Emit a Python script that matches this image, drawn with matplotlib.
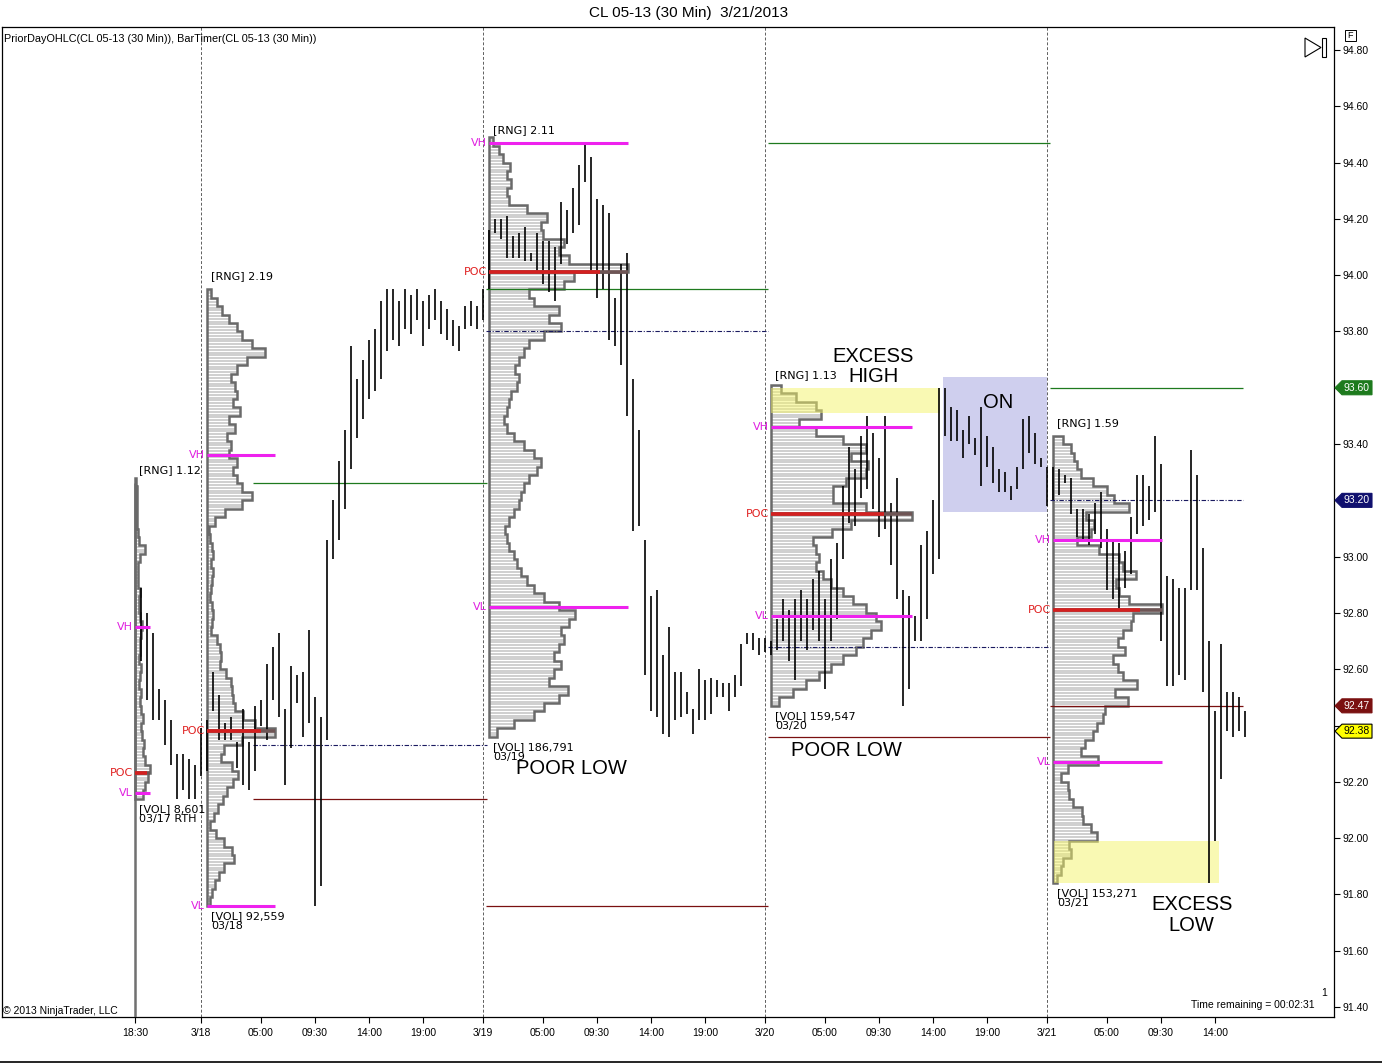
import numpy as np
import matplotlib.pyplot as plt
from matplotlib.patches import Rectangle, Polygon
from matplotlib.lines import Line2D

plt.rcParams['font.family'] = ['Liberation Sans', 'DejaVu Sans']

# 30 min bars, x = bar number counted from the 18:30 bar of 3/17
bar_num = list(range(1, 186))
bar_high = [92.89, 92.80, 92.73, 92.53, 92.49, 92.42, 92.30, 92.30, 92.28, 92.26,
            92.39, 92.42, 92.59, 92.51, 92.41, 92.43, 92.34, 92.46, 92.34, 92.47,
            92.49, 92.62, 92.68, 92.73, 92.46, 92.61, 92.58, 92.59, 92.74, 92.50,
            92.43, 93.06, 93.20, 93.34, 93.45, 93.75, 93.63, 93.70, 93.77, 93.81,
            93.91, 93.95, 93.95, 93.91, 93.95, 93.93, 93.95, 93.91, 93.93, 93.95,
            93.91, 93.88, 93.84, 93.82, 93.89, 93.91, 93.89, 93.95, 94.16, 94.20,
            94.20, 94.21, 94.14, 94.15, 94.17, 94.08, 94.15, 94.12, 94.12, 94.10,
            94.26, 94.23, 94.31, 94.39, 94.47, 94.42, 94.27, 94.25, 94.22, 93.92,
            94.04, 94.08, 93.63, 93.45, 93.06, 92.86, 92.88, 92.65, 92.75, 92.59,
            92.59, 92.52, 92.46, 92.60, 92.56, 92.57, 92.56, 92.55, 92.55, 92.58,
            92.69, 92.73, 92.73, 92.71, 92.71, 92.70, 92.78, 92.85, 92.81, 92.85,
            92.88, 92.85, 92.92, 92.95, 92.85, 92.99, 93.05, 93.25, 93.39, 93.31,
            93.43, 93.50, 93.44, 93.35, 93.50, 93.19, 93.28, 92.88, 92.86, 92.79,
            93.04, 93.09, 93.20, 93.60, 93.60, 93.53, 93.52, 93.45, 93.50, 93.42,
            93.53, 93.43, 93.39, 93.31, 93.30, 93.25, 93.32, 93.49, 93.50, 93.44,
            93.35, 93.32, 93.32, 93.31, 93.29, 93.28, 93.17, 93.17, 93.15, 93.19,
            93.23, 93.10, 93.06, 93.05, 93.02, 93.14, 93.29, 93.29, 93.25, 93.43,
            93.33, 92.93, 92.92, 92.89, 92.89, 93.38, 93.29, 93.03, 92.70, 92.45,
            92.69, 92.52, 92.52, 92.50, 92.45]
bar_low = [92.63, 92.49, 92.42, 92.42, 92.33, 92.26, 92.14, 92.17, 92.14, 92.14,
           92.22, 92.24, 92.45, 92.35, 92.35, 92.35, 92.25, 92.19, 92.17, 92.24,
           92.40, 92.35, 92.49, 92.43, 92.19, 92.32, 92.48, 92.36, 92.41, 91.76,
           91.83, 92.35, 92.99, 93.06, 93.17, 93.31, 93.42, 93.49, 93.56, 93.59,
           93.63, 93.73, 93.77, 93.75, 93.81, 93.79, 93.84, 93.75, 93.81, 93.84,
           93.79, 93.77, 93.75, 93.73, 93.81, 93.82, 93.81, 93.84, 93.95, 94.15,
           94.13, 94.06, 94.06, 94.06, 94.05, 94.05, 94.01, 93.97, 93.94, 93.91,
           94.04, 94.11, 94.15, 94.18, 94.33, 94.01, 93.92, 93.95, 93.77, 93.75,
           93.68, 93.50, 93.09, 93.11, 92.58, 92.45, 92.43, 92.37, 92.36, 92.42,
           92.43, 92.44, 92.37, 92.42, 92.42, 92.44, 92.50, 92.50, 92.45, 92.50,
           92.54, 92.69, 92.67, 92.65, 92.66, 92.65, 92.67, 92.70, 92.63, 92.56,
           92.70, 92.67, 92.74, 92.70, 92.53, 92.70, 92.78, 92.99, 93.12, 93.11,
           93.21, 93.24, 93.17, 93.07, 93.10, 92.97, 92.85, 92.47, 92.53, 92.70,
           92.70, 92.78, 92.94, 92.99, 93.43, 93.41, 93.41, 93.35, 93.40, 93.36,
           93.25, 93.32, 93.26, 93.23, 93.23, 93.20, 93.24, 93.31, 93.37, 93.33,
           93.32, 93.18, 93.20, 93.22, 93.26, 93.15, 93.07, 93.06, 93.04, 93.08,
           93.03, 92.88, 92.85, 92.81, 92.89, 92.94, 93.08, 93.11, 93.13, 93.16,
           92.70, 92.54, 92.54, 92.58, 92.56, 92.88, 92.88, 92.52, 91.84, 91.99,
           92.21, 92.38, 92.36, 92.38, 92.36]

# time axis
tick_bar = [0, 11, 21, 30, 39, 48, 58, 68, 77, 86, 95, 105, 115, 124, 133, 142,
            152, 162, 171, 180]
tick_lbl = ['18:30', '3/18', '05:00', '09:30', '14:00', '19:00', '3/19', '05:00',
            '09:30', '14:00', '19:00', '3/20', '05:00', '09:30', '14:00', '19:00',
            '3/21', '05:00', '09:30', '14:00']
date_bar = [11, 58, 105, 152]

# volume profiles, volume per 0.03 row from the low up (units of ~60 contracts)
ROW = 0.03
vol_0317 = [8, 10, 13, 15, 10, 8, 9, 7, 6, 8, 6, 5, 6, 4, 5, 6, 4, 5, 5, 6,
            7, 5, 4, 4, 5, 3, 3, 3, 5, 10, 4, 3, 2, 2, 2, 2, 2, 1]
vol_0318 = [3, 5, 8, 12, 17, 27, 25, 17, 9, 3, 7, 11, 16, 20, 26, 31, 25, 14, 17, 35,
            68, 48, 36, 28, 26, 25, 24, 19, 13, 14, 13, 10, 4, 5, 6, 5, 3, 4, 5, 6,
            4, 6, 5, 3, 2, 8, 18, 35, 45, 35, 30, 26, 30, 22, 24, 20, 28, 22, 33, 26,
            30, 28, 24, 30, 40, 58, 45, 35, 30, 22, 15, 10, 4]
vol_0319 = [8, 25, 45, 55, 70, 79, 60, 65, 72, 65, 70, 75, 72, 80, 86, 70, 55, 45, 38, 32,
            28, 25, 20, 18, 16, 20, 25, 30, 32, 35, 40, 48, 52, 45, 35, 25, 18, 15, 18, 20,
            22, 28, 30, 26, 30, 35, 40, 55, 72, 60, 70, 45, 40, 75, 85, 139, 80, 70, 75, 54,
            52, 58, 38, 20, 18, 22, 18, 21, 14, 10, 4]
vol_0320 = [8, 22, 35, 48, 60, 72, 85, 92, 100, 110, 105, 95, 82, 72, 60, 52, 45, 48, 45, 42,
            61, 80, 141, 95, 62, 62, 75, 95, 97, 80, 95, 72, 45, 28, 50, 45, 25, 10]
vol_0321 = [4, 8, 10, 18, 16, 44, 38, 30, 29, 20, 16, 15, 8, 15, 45, 28, 32, 40, 44, 50,
            52, 75, 62, 84, 70, 65, 60, 72, 65, 70, 78, 80, 109, 76, 66, 63, 83, 70, 66, 46,
            24, 38, 41, 33, 76, 61, 54, 40, 28, 24, 21, 18, 10]
prof_vols = [vol_0317, vol_0318, vol_0319, vol_0320, vol_0321]
prof_date = ['03/17 RTH', '03/18', '03/19', '03/20', '03/21']
prof_start = [0, 12, 59, 106, 153]
prof_low = [92.14, 91.76, 92.36, 92.47, 91.84]
prof_rng = [1.12, 2.19, 2.11, 1.13, 1.59]
prof_total = ['8,601', '92,559', '186,791', '159,547', '153,271']
prof_vh = [92.75, 93.36, 94.47, 93.46, 93.06]
prof_poc = [92.23, 92.38, 94.01, 93.15, 92.81]
prof_vl = [92.16, 91.76, 92.82, 92.79, 92.27]

# prior day high / low / close
pd_from = [19.67, 58.5, 105.5, 152.5]
pd_to = [58.67, 105.5, 152.5, 184.67]
pd_high = [93.26, 93.95, 94.47, 93.60]
pd_close = [92.33, 93.80, 92.68, 93.20]
pd_low = [92.14, 91.76, 92.36, 92.47]

# price markers on the axis
tag_price = [93.60, 93.20, 92.47, 92.38]
tag_face = ['#1d7a1d', '#10106e', '#7a1010', '#ffff00']
tag_text = ['white', 'white', 'white', 'black']

# marked zones: (bar from, bar to, price low, price high)
zone_on = (134.67, 152.0, 93.16, 93.64)
zone_xhigh = (106.0, 134.2, 93.51, 93.60)
zone_xlow = (153.2, 180.7, 91.84, 91.99)

PX_Y = 281.5   # pixels per 1.00 of price
PX_X = 6.0     # pixels per bar

fig = plt.figure(figsize=(13.82, 10.63), dpi=100)
ax = fig.add_axes([2 / 1382, 1 - 1017 / 1063, 1332 / 1382, 990 / 1063])
ax.set_xlim(-22.17, 199.83)
ax.set_ylim(91.3645, 94.8817)
for s in ax.spines.values():
    s.set_linewidth(0.9)

# date separators
ax.vlines(date_bar, 91.3645, 94.8817, colors='#606060', lw=0.7,
          linestyles=(0, (3, 2)), zorder=1)
ax.vlines(prof_start[0], 91.3645, prof_low[0] + prof_rng[0], colors='#707070',
          lw=1.8, zorder=3)

# overnight box
x0, x1, y0, y1 = zone_on
ax.add_patch(Rectangle((x0, y0), x1 - x0, y1 - y0, facecolor='#cfcfee',
                       edgecolor='none', zorder=1.5))

# profiles
sy, sx0, sx1 = [], [], []
for vols, st, lo in zip(prof_vols, prof_start, prof_low):
    pts = [(st, lo)]
    for k, v in enumerate(vols):
        w = v / PX_X
        for j in range(3):
            sy.append(lo + k * ROW + (j + 0.5) * 0.01)
            sx0.append(st)
            sx1.append(st + w)
        pts += [(st + w, lo + k * ROW), (st + w, lo + (k + 1) * ROW)]
    pts.append((st, lo + len(vols) * ROW))
    ax.add_patch(Polygon(pts, closed=True, fill=False, edgecolor='#6a6a6a',
                         lw=1.8, joinstyle='miter', zorder=3))
ax.hlines(sy, sx0, sx1, colors='#c2c2c2', lw=1.1, zorder=2)

# prior day lines
ax.hlines(pd_high, pd_from, pd_to, colors='#1e7a1e', lw=0.9, zorder=4)
ax.hlines(pd_low, pd_from, pd_to, colors='#7a1010', lw=0.9, zorder=4)
ax.hlines(pd_close, pd_from, pd_to, colors='#1a1a60', lw=0.8,
          linestyles=(0, (4, 1.5, 1, 1.5)), zorder=4)

# excess zones
for x0, x1, y0, y1 in (zone_xhigh, zone_xlow):
    ax.add_patch(Rectangle((x0, y0), x1 - x0, y1 - y0, facecolor='#f5f569',
                           edgecolor='none', alpha=0.5, zorder=4.5))

# price bars
ax.vlines(bar_num, bar_low, bar_high, colors='black', lw=1.2, zorder=5)

# profile key levels and labels
lab = dict(family='DejaVu Sans', fontsize=8)
for vols, st, lo, rng, tot, dt, vh, poc, vl in zip(prof_vols, prof_start, prof_low,
                                                     prof_rng, prof_total, prof_date,
                                                     prof_vh, prof_poc, prof_vl):
    wmax = max(vols) / PX_X
    ax.hlines([vh, vl], st, st + wmax, colors='#ee22ee', lw=2.2, zorder=6)
    ax.hlines(poc, st, st + wmax, colors='#6e5555', lw=2.6, zorder=6)
    ax.hlines(poc, st, st + 0.8 * wmax, colors='#d42020', lw=2.6, zorder=6.5)
    xl = st - 2 / PX_X
    ax.text(xl, vh, 'VH', color='#e020e0', ha='right', va='center', zorder=7, **lab)
    ax.text(xl, vl, 'VL', color='#e020e0', ha='right', va='center', zorder=7, **lab)
    ax.text(xl, poc, 'POC', color='#e02020', ha='right', va='center', zorder=7, **lab)
    xt = st + 4 / PX_X
    ax.text(xt, lo + rng + 13 / PX_Y, f'[RNG] {rng:.2f}', ha='left', va='center',
            zorder=7, **lab)
    ax.text(xt, lo - 10 / PX_Y, f'[VOL] {tot}', ha='left', va='center', zorder=7, **lab)
    ax.text(xt, lo - 20 / PX_Y, dt, ha='left', va='center', zorder=7, **lab)

# hand drawn notes
big = dict(fontsize=14.5, ha='center', va='center', linespacing=1.1, zorder=8)
ax.text(123.0, 93.676, 'EXCESS\nHIGH', **big)
ax.text(143.8, 93.546, 'ON', **big)
ax.text(72.7, 92.246, 'POOR LOW', **big)
ax.text(118.5, 92.31, 'POOR LOW', **big)
ax.text(176.1, 91.727, 'EXCESS\nLOW', **big)

# axes ticks (92.40 sits under the last price marker)
yt = np.arange(91.40, 94.81, 0.20)
ax.yaxis.tick_right()
ax.set_yticks(yt)
ax.set_yticklabels(['' if abs(v - 92.40) < 1e-6 else f'{v:.2f}' for v in yt])
ax.tick_params(axis='y', direction='out', length=4, width=0.8, pad=2, labelsize=7.5)
ax.set_xticks(tick_bar)
ax.set_xticklabels(tick_lbl)
ax.tick_params(axis='x', direction='out', length=4, width=0.8, pad=4, labelsize=7.5)

# price tags on the axis
tr = ax.get_yaxis_transform()


def afx(px):
    return (px - 2) / 1332


h = 7 / PX_Y
for p, fc, tc in zip(tag_price, tag_face, tag_text):
    pts = [(afx(1335), p), (afx(1342), p + h), (afx(1372), p + h),
           (afx(1372), p - h), (afx(1342), p - h)]
    ax.add_patch(Polygon(pts, closed=True, transform=tr, facecolor=fc,
                         edgecolor='black' if fc == '#ffff00' else fc, lw=0.8,
                         clip_on=False, zorder=10))
    ax.text(afx(1357), p, f'{p:.2f}', transform=tr, color=tc, ha='center',
            va='center', fontsize=7.5, clip_on=False, zorder=11)


def fp(x, y):
    return (x / 1382, 1 - y / 1063)


fig.text(*fp(689, 13), 'CL 05-13 (30 Min)  3/21/2013', ha='center', va='center',
         fontsize=11)
fig.text(*fp(4, 39), 'PriorDayOHLC(CL 05-13 (30 Min)), BarTimer(CL 05-13 (30 Min))',
         ha='left', va='center', fontsize=7.8)
fig.text(*fp(3, 1011), '\u00a9 2013 NinjaTrader, LLC', ha='left', va='center',
         fontsize=7.5)
fig.text(*fp(1315, 1005), 'Time remaining = 00:02:31', ha='right', va='center',
         fontsize=7.5)
fig.text(*fp(1324, 993), '1', ha='center', va='center', fontsize=7.5)

# toolbar glyphs
fig.add_artist(Polygon([fp(1305, 38), fp(1305, 57), fp(1321, 47.5)], closed=True,
                       fill=False, edgecolor='black', lw=0.8, transform=fig.transFigure))
fig.add_artist(Rectangle(fp(1322, 57), 4 / 1382, 19 / 1063, fill=False,
                         edgecolor='black', lw=0.8, transform=fig.transFigure))
fig.add_artist(Rectangle(fp(1345, 41), 11 / 1382, 11 / 1063, fill=False,
                         edgecolor='black', lw=0.7, transform=fig.transFigure))
fig.text(*fp(1350.5, 35.5), 'F', ha='center', va='center', fontsize=6.5)
fig.add_artist(Line2D([0, 1], [1.2 / 1063, 1.2 / 1063], color='black', lw=1.2,
                      transform=fig.transFigure))

fig.savefig('out.png', dpi=100)
